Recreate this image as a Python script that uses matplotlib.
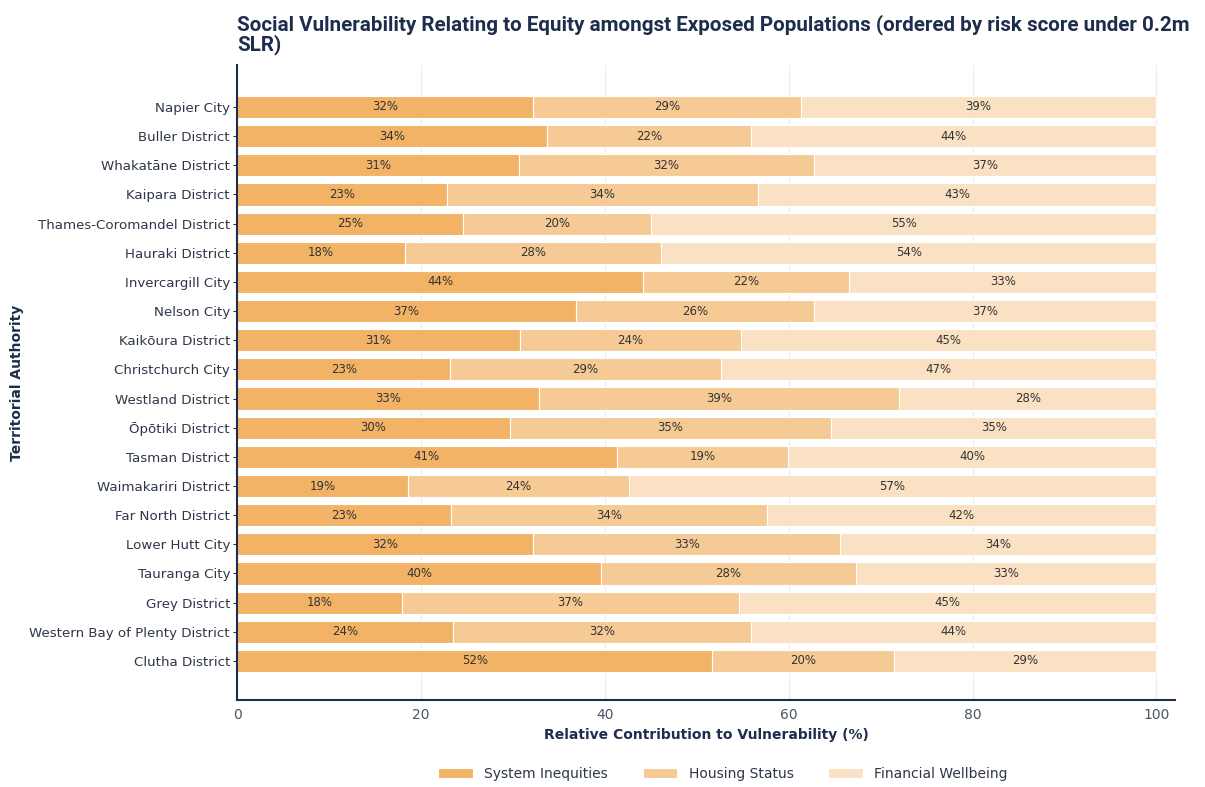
import matplotlib
matplotlib.use("Agg")
import matplotlib.pyplot as plt
import numpy as np

authorities = [
    "Napier City", "Buller District", "Whakatāne District", "Kaipara District",
    "Thames-Coromandel District", "Hauraki District", "Invercargill City",
    "Nelson City", "Kaikōura District", "Christchurch City", "Westland District",
    "Ōpōtiki District", "Tasman District", "Waimakariri District",
    "Far North District", "Lower Hutt City", "Tauranga City", "Grey District",
    "Western Bay of Plenty District", "Clutha District",
]
system_inequities = [32.2, 33.7, 30.7, 22.8, 24.6, 18.3, 44.2, 36.9, 30.8, 23.2,
                     32.8, 29.7, 41.3, 18.6, 23.3, 32.2, 39.6, 17.9, 23.5, 51.7]
housing_status = [29.1, 22.2, 32.0, 33.9, 20.4, 27.8, 22.4, 25.8, 24.0, 29.4,
                  39.2, 34.9, 18.6, 24.0, 34.3, 33.4, 27.7, 36.7, 32.4, 19.7]
financial_wellbeing = [38.7, 44.1, 37.3, 43.3, 55.0, 53.9, 33.4, 37.3, 45.2, 47.4,
                       28.0, 35.4, 40.1, 57.4, 42.4, 34.4, 32.7, 45.4, 44.1, 28.6]
series_names = ["System Inequities", "Housing Status", "Financial Wellbeing"]
colors = ["#F2B366", "#F6CA94", "#FAE1C3"]
x_ticks = [0, 20, 40, 60, 80, 100]

navy = "#1f2d4d"
text_col = "#2d3748"

fig = plt.figure(figsize=(12.05, 7.87), dpi=100)
ax = fig.add_axes([0.1967, 0.1105, 0.7783, 0.8069])

y = np.arange(len(authorities))
left = np.zeros(len(authorities))
for name, vals, col in zip(series_names, [system_inequities, housing_status, financial_wellbeing], colors):
    vals = np.array(vals)
    ax.barh(y, vals, left=left, height=0.76, color=col, label=name,
            edgecolor="white", linewidth=0.8, zorder=2)
    for yi, l, v in zip(y, left, vals):
        ax.text(l + v / 2, yi, f"{v:.0f}%", ha="center", va="center",
                fontsize=8.5, color="#333333", zorder=3)
    left = left + vals

ax.set_yticks(y)
ax.set_yticklabels(authorities, fontsize=9.6, color=text_col)
ax.set_ylim(len(authorities) - 1 + 1.34, -1.44)
ax.set_xlim(0, 102)
ax.set_xticks(x_ticks)
ax.tick_params(axis="x", labelsize=10, colors="#4a5568", length=0, pad=6)
ax.tick_params(axis="y", length=3, color=navy, pad=2)
ax.grid(axis="x", color="#ececec", linewidth=0.8, zorder=0)
ax.set_axisbelow(True)
for s in ["top", "right"]:
    ax.spines[s].set_visible(False)
for s in ["left", "bottom"]:
    ax.spines[s].set_color(navy)
    ax.spines[s].set_linewidth(1.5)

ax.set_xlabel("Relative Contribution to Vulnerability (%)", fontsize=10,
              fontweight="bold", color=navy, labelpad=4)
ax.set_ylabel("Territorial Authority", fontsize=10, fontweight="bold",
              color=navy, labelpad=4)
fig.text(0.1967, 0.982,
         "Social Vulnerability Relating to Equity amongst Exposed Populations (ordered by risk score under 0.2m\nSLR)",
         ha="left", va="top", fontsize=14.9, fontweight="bold", color=navy,
         family="Roboto", linespacing=0.98)

fig.legend(loc="lower center", bbox_to_anchor=(0.6, -0.008), ncol=3, frameon=False,
           fontsize=10, handlelength=2.5, handleheight=0.8, columnspacing=2.5,
           labelcolor=text_col)

fig.savefig("out.png", dpi=100)
